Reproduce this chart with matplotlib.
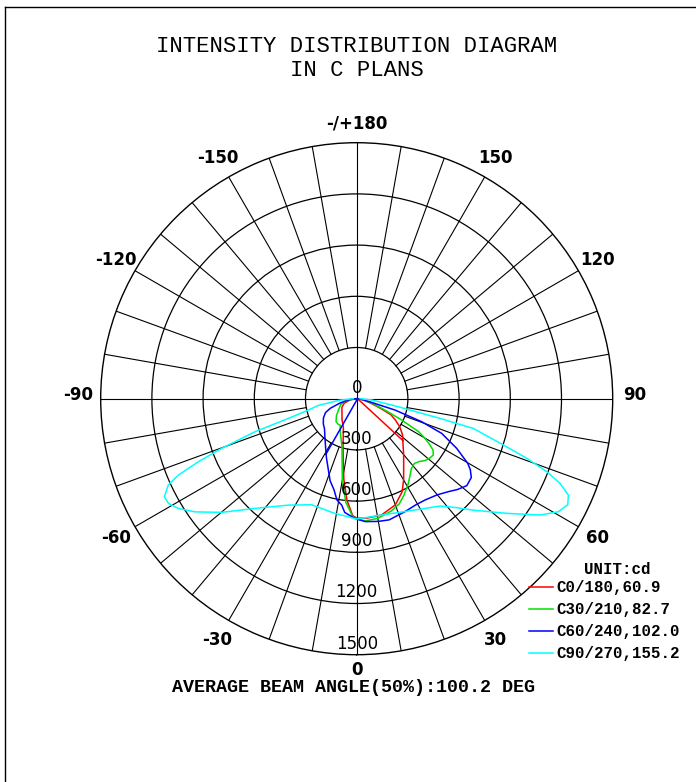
import numpy as np
import matplotlib
matplotlib.use("Agg")
import matplotlib.pyplot as plt
from matplotlib.lines import Line2D

# gamma angles in degrees (negative = opposite half plane), intensity in cd
red_gamma = [-90, -80, -70, -60, -45, -35, -25, -20, -16, -12, -9, -5.5, -2, 0,
             5, 12, 20, 26, 30, 35, 40, 44, 47.8, 52, 57, 61, 65, 68, 72, 78,
             84, 90, 47.8]
red_cd = [5, 40, 78, 100, 122, 150, 185, 230, 290, 380, 480, 597, 685, 700,
          702, 697, 662, 607, 550, 480, 428, 392, 365, 340, 300, 260, 220, 150,
          90, 45, 20, 5, 365]

green_gamma = [-90, -80, -70, -58, -50, -42, -36, -32, -25, -17, -13, -10, -6,
               -2, 0, 4, 10, 17, 22, 26, 31, 35, 38, 41.7, 45, 47.8, 51, 53.7,
               56, 57.7, 60, 62, 64.6, 66.5, 69, 75, 82, 90]
green_cd = [5, 69, 100, 126, 155, 181, 185, 183, 225, 295, 380, 485, 610,
            690, 705, 718, 712, 689, 665, 630, 585, 546, 520, 508, 520, 540,
            552, 557, 540, 508, 460, 410, 292, 220, 157, 80, 35, 5]

blue_gamma = [-90, -85, -80, -75, -70, -66, -60, -53, -47, -40, -33, -27, -22,
              -18, -14, -11, -8, -6, -2.4, 0, 4, 10, 15, 23, 29, 34, 40, 44.6,
              48, 51.7, 55.5, 58, 59.8, 63.6, 67.8, 70.5, 73.5, 76, 82, 90, -29]
blue_cd = [5, 30, 60, 105, 165, 200, 225, 245, 258, 290, 335, 390, 445, 505,
           550, 605, 630, 670, 692, 705, 722, 730, 735, 720, 712, 716, 735,
           765, 795, 822, 815, 785, 753, 654, 538, 404, 234, 90, 30, 5, 372]

cyan_gamma = [-90, -85, -80, -76.8, -73.9, -72, -69.8, -68.3, -66.8, -65.4,
              -63, -60.9, -58.4, -55, -49.9, -42.8, -32.7, -23, -11, 0, 12,
              27.6, 37.8, 42.1, 46.3, 52.6, 57.6, 60.7, 63.3, 65.5, 67.4, 69,
              70.7, 72.5, 75.7, 76.7, 79, 85, 90]
cyan_cd = [20, 100, 230, 291, 417, 626, 843, 998, 1137, 1214, 1265, 1262,
           1227, 1156, 1034, 876, 741, 675, 684, 705, 697, 736, 796, 859, 945,
           1106, 1272, 1354, 1384, 1363, 1290, 1193, 1055, 901, 705, 502, 248,
           90, 20]

labels = ["C0/180,60.9", "C30/210,82.7", "C60/240,102.0", "C90/270,155.2"]
colors = ["#ff0000", "#00e000", "#0000ff", "#00ffff"]

ring_values = [0, 300, 600, 900, 1200, 1500]
angle_ticks = [-150, -120, -90, -60, -30, 0, 30, 60, 90, 120, 150, 180]
angle_labels = ["-150", "-120", "-90", "-60", "-30", "0", "30", "60", "90",
                "120", "150", "-/+180"]

fig = plt.figure(figsize=(6.96, 7.82), dpi=100)
fig.patch.set_facecolor("white")

ax = fig.add_axes([0.14468, 0.16279, 0.73563, 0.65473], projection="polar")
ax.set_theta_zero_location("S")
ax.set_theta_direction(1)
ax.set_ylim(0, 1500)
ax.set_xticks([])
ax.set_yticks([300, 600, 900, 1200])
ax.set_yticklabels([])
ax.yaxis.grid(True, color="black", lw=0.9)
ax.spines["polar"].set_linewidth(1.0)
ax.spines["polar"].set_color("black")

# spokes every 10 deg, the main axes run through the centre
for a in range(-170, 181, 10):
    th = np.deg2rad(a)
    r0 = 0 if a % 90 == 0 else 300
    ax.plot([th, th], [r0, 1500], color="black", lw=0.8, zorder=1)

series = [(red_gamma, red_cd), (green_gamma, green_cd),
          (blue_gamma, blue_cd), (cyan_gamma, cyan_cd)]
for (g, cd), col, lab in zip(series, colors, labels):
    ax.plot(np.deg2rad(g), cd, color=col, lw=1.1, label=lab, zorder=3)

for v in ring_values:
    ax.annotate(str(v), xy=(0, v), xytext=(0, 8), textcoords="offset points",
                ha="center", va="center", fontsize=12, family="DejaVu Sans",
                annotation_clip=False, zorder=4)

for a, lab in zip(angle_ticks, angle_labels):
    r = 1630
    if a == 0:
        r = 1590
    elif a == 180:
        r = 1610
    dy = 3 if abs(a) == 90 else 0
    ax.annotate(lab, xy=(np.deg2rad(a), r), xytext=(0, dy),
                textcoords="offset points", ha="center", va="center",
                fontsize=12, fontweight="bold", family="DejaVu Sans",
                annotation_clip=False)

leg = ax.legend(loc="upper left", bbox_to_anchor=(529 / 696, 1 - 580 / 782),
                bbox_transform=fig.transFigure, frameon=False, borderpad=0,
                borderaxespad=0, handlelength=1.5, handletextpad=0.25,
                labelspacing=0.45,
                prop={"family": "Liberation Mono", "weight": "bold",
                      "size": 11.3})

fig.text(617 / 696, 1 - 570 / 782, "UNIT:cd", ha="center", va="center",
         family="Liberation Mono", fontweight="bold", fontsize=11.3)

fig.text(357 / 696, 1 - 46 / 782, "INTENSITY DISTRIBUTION DIAGRAM",
         ha="center", va="center", family="Liberation Mono", fontsize=16)
fig.text(357 / 696, 1 - 71 / 782, "IN C PLANS", ha="center", va="center",
         family="Liberation Mono", fontsize=16)
fig.text(354 / 696, 1 - 687 / 782, "AVERAGE BEAM ANGLE(50%):100.2 DEG",
         ha="center", va="center", family="Liberation Mono",
         fontweight="bold", fontsize=13.2)

# page frame (top and left edges)
fig.add_artist(Line2D([5 / 696, 1], [1 - 7 / 782, 1 - 7 / 782],
                      color="black", lw=1, transform=fig.transFigure))
fig.add_artist(Line2D([5 / 696, 5 / 696], [0, 1 - 7 / 782],
                      color="black", lw=1, transform=fig.transFigure))

fig.savefig("out.png", dpi=100)
